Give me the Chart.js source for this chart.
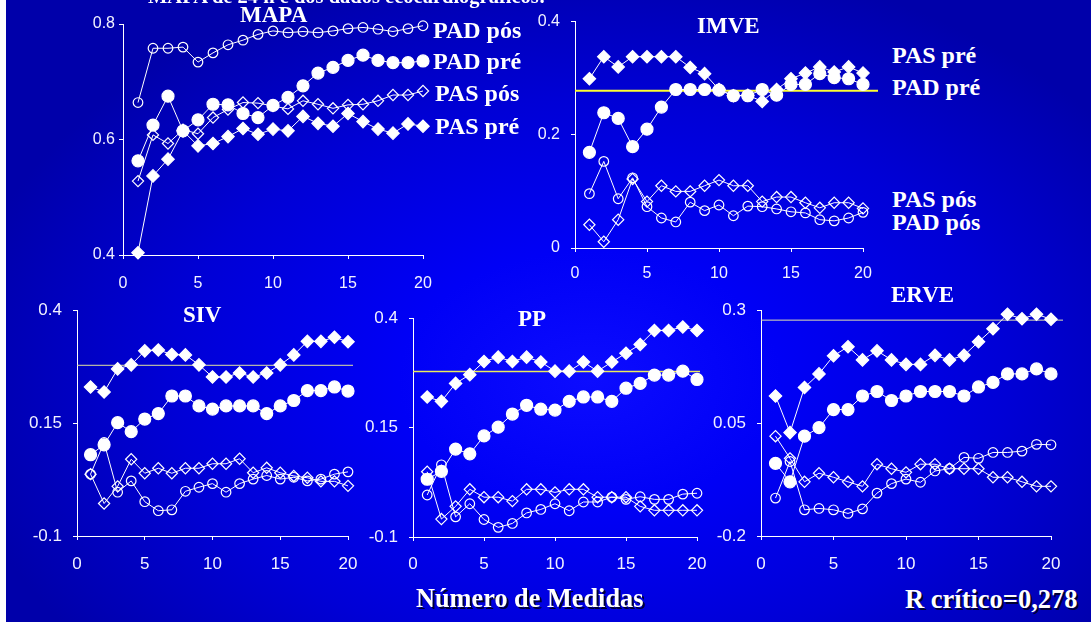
<!DOCTYPE html>
<html lang="pt">
<head>
<meta charset="utf-8">
<title>Correlação MAPA × ecocardiograma</title>
<script src="https://cdn.jsdelivr.net/npm/chart.js@4.4.1/dist/chart.umd.min.js"></script>
<style>
  html, body { margin: 0; padding: 0; width: 1091px; height: 622px; overflow: hidden; background: #ffffff; }
  #stage {
    position: absolute; left: 0; top: 0; width: 1091px; height: 622px; overflow: hidden;
    background-color: #0000a8;
    background-image: radial-gradient(ellipse 640px 430px at 590px 380px,
      #0c0cff 0%, #0000f6 30%, #0000d6 65%, #0000aa 100%);
  }
  #edge { position: absolute; left: 0; top: 0; width: 6px; height: 622px; background: #ffffff; z-index: 5; }
  #stage canvas { position: absolute; }
  .lbl {
    position: absolute; white-space: nowrap; color: #ffffff; line-height: 1;
    font-family: "Liberation Serif", "Times New Roman", serif; font-weight: bold; z-index: 4;
  }
  .shadow { text-shadow: 2px 2px 0 #000033; }
</style>
</head>
<body>
<div id="stage"></div>
<div id="edge"></div>
<script>
// Number of measurements (x axis)
const measures = [1, 2, 3, 4, 5, 6, 7, 8, 9, 10, 11, 12, 13, 14, 15, 16, 17, 18, 19, 20];
const xTicks = [0, 5, 10, 15, 20];

// Critical correlation coefficient
const rCritico = 0.278;

// MAPA
const mapaPadPos = [0.664, 0.758, 0.758, 0.760, 0.734, 0.750, 0.764, 0.772, 0.782, 0.788, 0.785, 0.787, 0.785, 0.788, 0.792, 0.794, 0.791, 0.787, 0.792, 0.797];
const mapaPadPre = [0.563, 0.625, 0.675, 0.615, 0.634, 0.661, 0.660, 0.645, 0.638, 0.659, 0.673, 0.693, 0.715, 0.725, 0.737, 0.746, 0.737, 0.733, 0.733, 0.736];
const mapaPasPos = [0.528, 0.608, 0.593, 0.617, 0.610, 0.638, 0.652, 0.664, 0.663, 0.658, 0.653, 0.667, 0.661, 0.654, 0.660, 0.661, 0.667, 0.677, 0.677, 0.684];
const mapaPasPre = [0.404, 0.537, 0.566, 0.615, 0.589, 0.593, 0.605, 0.619, 0.609, 0.618, 0.615, 0.640, 0.628, 0.623, 0.645, 0.631, 0.618, 0.611, 0.627, 0.623];
const mapaYTicks = [0.4, 0.6, 0.8];

// IMVE
const imvePasPre = [0.299, 0.338, 0.320, 0.338, 0.338, 0.338, 0.338, 0.319, 0.308, 0.280, 0.269, 0.270, 0.259, 0.280, 0.299, 0.309, 0.320, 0.311, 0.320, 0.309];
const imvePadPre = [0.169, 0.239, 0.229, 0.179, 0.210, 0.249, 0.280, 0.280, 0.280, 0.279, 0.269, 0.269, 0.280, 0.270, 0.289, 0.289, 0.308, 0.301, 0.299, 0.289];
const imvePasPos = [0.041, 0.011, 0.050, 0.122, 0.082, 0.110, 0.100, 0.100, 0.110, 0.120, 0.110, 0.110, 0.082, 0.090, 0.090, 0.080, 0.071, 0.080, 0.080, 0.070];
const imvePadPos = [0.096, 0.153, 0.087, 0.124, 0.073, 0.053, 0.046, 0.081, 0.066, 0.076, 0.057, 0.074, 0.073, 0.069, 0.064, 0.062, 0.050, 0.048, 0.053, 0.063];
const imveYTicks = [0, 0.2, 0.4];

// SIV
const sivPasPre = [0.230, 0.219, 0.270, 0.279, 0.310, 0.312, 0.302, 0.301, 0.279, 0.252, 0.252, 0.261, 0.252, 0.261, 0.279, 0.301, 0.331, 0.331, 0.340, 0.330];
const sivPadPre = [0.080, 0.102, 0.151, 0.131, 0.159, 0.171, 0.210, 0.210, 0.188, 0.181, 0.188, 0.188, 0.188, 0.171, 0.188, 0.200, 0.222, 0.222, 0.230, 0.221];
const sivPasPos = [0.037, -0.028, 0.010, 0.070, 0.039, 0.050, 0.039, 0.050, 0.050, 0.060, 0.060, 0.071, 0.040, 0.051, 0.040, 0.033, 0.029, 0.021, 0.021, 0.011];
const sivPadPos = [0.037, 0.107, -0.003, 0.022, -0.024, -0.044, -0.042, -0.001, 0.008, 0.016, -0.003, 0.016, 0.026, 0.034, 0.026, 0.030, 0.022, 0.026, 0.037, 0.042];
const sivYTicks = [-0.1, 0.15, 0.4];

// PP
const ppPasPre = [0.220, 0.210, 0.251, 0.271, 0.301, 0.311, 0.301, 0.311, 0.300, 0.279, 0.279, 0.300, 0.279, 0.300, 0.320, 0.340, 0.372, 0.372, 0.380, 0.372];
const ppPadPre = [0.032, 0.050, 0.101, 0.090, 0.131, 0.151, 0.181, 0.201, 0.192, 0.190, 0.210, 0.220, 0.220, 0.210, 0.240, 0.251, 0.270, 0.270, 0.279, 0.260];
const ppPasPos = [0.049, -0.059, -0.030, 0.009, -0.009, -0.009, -0.018, 0.009, 0.009, 0.002, 0.009, 0.009, -0.009, -0.009, -0.009, -0.030, -0.039, -0.039, -0.039, -0.039];
const ppPadPos = [-0.004, 0.065, -0.054, -0.024, -0.060, -0.078, -0.069, -0.045, -0.037, -0.024, -0.040, -0.020, -0.020, -0.009, -0.014, -0.008, -0.014, -0.014, -0.002, 0.000];
const ppYTicks = [-0.1, 0.15, 0.4];

// ERVE
const ervePasPre = [0.110, 0.029, 0.129, 0.159, 0.199, 0.219, 0.190, 0.210, 0.190, 0.180, 0.180, 0.200, 0.190, 0.200, 0.230, 0.259, 0.291, 0.281, 0.291, 0.280];
const ervePadPre = [-0.039, -0.080, 0.021, 0.040, 0.080, 0.080, 0.110, 0.120, 0.100, 0.110, 0.120, 0.120, 0.120, 0.110, 0.130, 0.140, 0.159, 0.159, 0.170, 0.159];
const ervePasPos = [0.021, -0.028, -0.080, -0.061, -0.070, -0.080, -0.090, -0.041, -0.051, -0.059, -0.041, -0.041, -0.051, -0.051, -0.051, -0.070, -0.070, -0.080, -0.090, -0.090];
const ervePadPos = [-0.116, -0.035, -0.142, -0.139, -0.142, -0.150, -0.140, -0.105, -0.084, -0.074, -0.081, -0.056, -0.051, -0.026, -0.028, -0.015, -0.015, -0.012, 0.003, 0.002];
const erveYTicks = [-0.2, 0.05, 0.3];

const stage = document.getElementById('stage');

// Marker looks for the four series
const markers = {
  padPre: { pointStyle: 'circle',  pointRadius: 6,   fill: true },
  padPos: { pointStyle: 'circle',  pointRadius: 4.8, fill: false },
  pasPre: { pointStyle: 'rectRot', pointRadius: 6.2, fill: true },
  pasPos: { pointStyle: 'rectRot', pointRadius: 5.6, fill: false }
};

function series(values, kind) {
  const m = markers[kind];
  return {
    data: values.map((v, i) => ({ x: measures[i], y: v })),
    borderColor: '#ffffff',
    borderWidth: 1,
    pointStyle: m.pointStyle,
    pointRadius: m.pointRadius,
    pointHoverRadius: m.pointRadius,
    pointBorderWidth: 1.2,
    pointBorderColor: '#ffffff',
    pointBackgroundColor: m.fill ? '#ffffff' : 'rgba(0,0,0,0)',
    tension: 0,
    clip: false
  };
}

// Horizontal reference line at the critical r, drawn under the series
const thresholdLine = {
  id: 'thresholdLine',
  beforeDatasetsDraw(chart, args, opts) {
    if (!opts || opts.value === undefined || opts.value === null) return;
    const y = chart.scales.y.getPixelForValue(opts.value);
    const { ctx, chartArea } = chart;
    ctx.save();
    ctx.strokeStyle = opts.color;
    ctx.lineWidth = opts.width;
    ctx.beginPath();
    ctx.moveTo(chartArea.left, y);
    ctx.lineTo(chartArea.right + opts.extend, y);
    ctx.stroke();
    ctx.restore();
  }
};

function makePanel(p) {
  const padL = 60, padT = 16, padR = 24, padB = 40;
  const w = padL + (p.right - p.left) + padR;
  const h = padT + (p.bottom - p.top) + padB;
  const cv = document.createElement('canvas');
  cv.width = w; cv.height = h;
  cv.style.width = w + 'px'; cv.style.height = h + 'px';
  cv.style.left = (p.left - padL) + 'px';
  cv.style.top = (p.top - padT) + 'px';
  stage.appendChild(cv);

  const tickFont = { family: '"Liberation Sans", Arial, sans-serif', size: p.fontSize };
  const axisColor = '#ffffff';

  new Chart(cv, {
    type: 'line',
    data: { datasets: p.datasets },
    plugins: [thresholdLine],
    options: {
      responsive: false,
      animation: false,
      devicePixelRatio: 1,
      events: [],
      layout: { padding: { top: padT, right: padR, left: 0, bottom: 0 } },
      plugins: {
        legend: { display: false },
        tooltip: { enabled: false },
        thresholdLine: p.threshold || {}
      },
      scales: {
        x: {
          type: 'linear', min: 0, max: 20,
          afterFit(s) { s.height = padB; },
          afterBuildTicks(s) { s.ticks = xTicks.map(v => ({ value: v })); },
          grid: { display: true, drawOnChartArea: false, drawTicks: true, tickLength: 4, color: axisColor, lineWidth: 1 },
          border: { display: true, color: axisColor, width: 1 },
          ticks: { color: '#f2f2ff', font: tickFont, padding: p.xPad, maxRotation: 0, autoSkip: false,
                   callback: v => String(v) }
        },
        y: {
          type: 'linear', min: p.yTicks[0], max: p.yTicks[p.yTicks.length - 1],
          afterFit(s) { s.width = padL; },
          afterBuildTicks(s) { s.ticks = p.yTicks.map(v => ({ value: v })); },
          grid: { display: true, drawOnChartArea: false, drawTicks: true, tickLength: 4, color: axisColor, lineWidth: 1 },
          border: { display: true, color: axisColor, width: 1 },
          ticks: { color: '#f2f2ff', font: tickFont, padding: p.yPad, autoSkip: false,
                   callback: v => String(v) }
        }
      }
    }
  });
}

makePanel({
  left: 123, right: 423, top: 24, bottom: 255, yTicks: mapaYTicks, fontSize: 16, xPad: 15, yPad: 4,
  datasets: [series(mapaPasPre, 'pasPre'), series(mapaPasPos, 'pasPos'), series(mapaPadPre, 'padPre'), series(mapaPadPos, 'padPos')]
});
makePanel({
  left: 575, right: 863, top: 17, bottom: 248, yTicks: imveYTicks, fontSize: 16, xPad: 12, yPad: 11,
  threshold: { value: rCritico, color: '#ffff30', width: 2, extend: 15 },
  datasets: [series(imvePadPos, 'padPos'), series(imvePasPos, 'pasPos'), series(imvePadPre, 'padPre'), series(imvePasPre, 'pasPre')]
});
makePanel({
  left: 77, right: 348, top: 305, bottom: 536, yTicks: sivYTicks, fontSize: 17, xPad: 14, yPad: 11,
  threshold: { value: rCritico, color: '#e4e49c', width: 1, extend: 5 },
  datasets: [series(sivPadPos, 'padPos'), series(sivPasPos, 'pasPos'), series(sivPadPre, 'padPre'), series(sivPasPre, 'pasPre')]
});
makePanel({
  left: 413, right: 697, top: 313, bottom: 537, yTicks: ppYTicks, fontSize: 17, xPad: 13, yPad: 11,
  threshold: { value: rCritico, color: '#ecec5c', width: 1.5, extend: 3 },
  datasets: [series(ppPadPos, 'padPos'), series(ppPasPos, 'pasPos'), series(ppPadPre, 'padPre'), series(ppPasPre, 'pasPre')]
});
makePanel({
  left: 761, right: 1051, top: 305, bottom: 536, yTicks: erveYTicks, fontSize: 17, xPad: 14, yPad: 11,
  threshold: { value: rCritico, color: '#e2e2b0', width: 1, extend: 12 },
  datasets: [series(ervePadPos, 'padPos'), series(ervePasPos, 'pasPos'), series(ervePadPre, 'padPre'), series(ervePasPre, 'pasPre')]
});

// Text placed by its baseline (Liberation Serif, line-height 1)
function addText(txt, x, baseline, size, cls) {
  const d = document.createElement('div');
  d.className = 'lbl' + (cls ? ' ' + cls : '');
  d.textContent = txt;
  d.style.fontSize = size + 'px';
  d.style.left = x + 'px';
  d.style.top = (baseline - 0.8375 * size) + 'px';
  document.body.appendChild(d);
}

addText('MAPA de 24 h e dos dados ecocardiográficos:', 148, 3, 20.5);

addText('MAPA', 240, 22, 23);
addText('PAD pós', 433, 38, 24);
addText('PAD pré', 433, 69, 24);
addText('PAS pós', 435, 101, 24);
addText('PAS pré', 435, 134, 24);

addText('IMVE', 697, 33, 23);
addText('PAS pré', 892, 63, 24);
addText('PAD pré', 892, 95, 24);
addText('PAS pós', 892, 207, 24);
addText('PAD pós', 892, 230, 24);

addText('SIV', 183, 322, 23);
addText('PP', 518, 326, 23);
addText('ERVE', 891, 302, 23);

addText('Número de Medidas', 416, 608, 26.3, 'shadow');
addText('R crítico=0,278', 905, 608, 26.5, 'shadow');
</script>
</body>
</html>
